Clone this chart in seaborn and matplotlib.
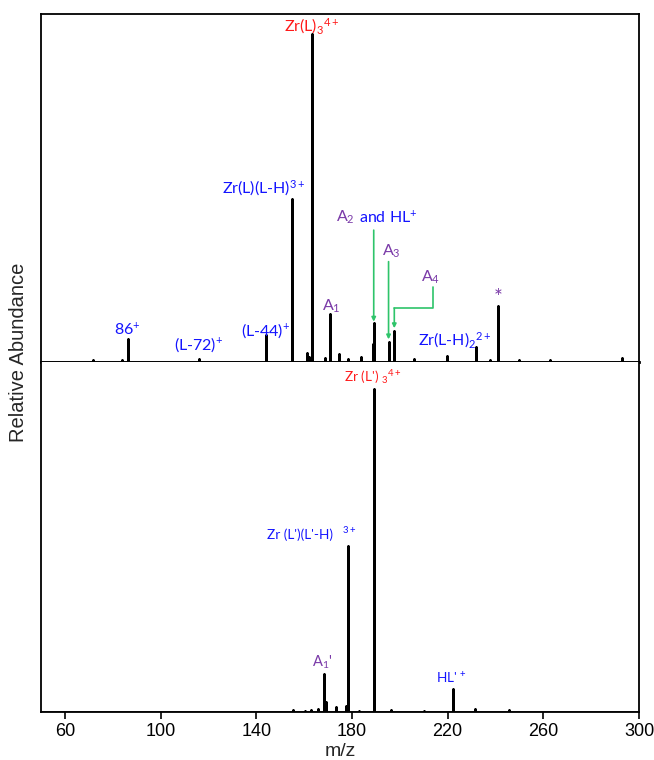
import numpy as np
import pandas as pd
import matplotlib
matplotlib.use("Agg")
import matplotlib.pyplot as plt
import seaborn as sns

# ---------------- data ----------------
top_mz = [71.8, 84.0, 86.2, 116.1, 144.0, 154.8, 161.0, 162.0, 163.3, 168.7, 170.8,
          174.7, 178.5, 183.6, 188.6, 189.1, 195.3, 197.5, 206.0, 219.6, 232.0,
          237.7, 241.0, 249.8, 262.8, 292.9]
top_int = [0.5, 0.5, 6.9, 0.8, 8.2, 49.7, 2.8, 1.5, 100, 1.2, 14.5,
           2.4, 0.8, 1.5, 5.6, 11.8, 6.2, 9.4, 0.9, 1.8, 4.7,
           0.6, 17.1, 0.6, 0.6, 1.3]

bot_mz = [155.3, 160.5, 163.0, 166.0, 168.3, 169.0, 173.3, 177.6, 178.2, 183.0,
          189.2, 196.3, 210.0, 222.1, 231.4, 245.5]
bot_int = [0.6, 0.4, 0.5, 0.8, 11.7, 3.1, 1.5, 1.9, 51.4, 0.4,
           100, 0.6, 0.3, 7.0, 0.9, 0.5]

x_ticks = [60, 100, 140, 180, 220, 260, 300]
x_range = (50, 300)

BLUE = "#1414FF"
RED = "#FF1A1A"
PURPLE = "#7A3AA8"
GREEN = "#2EC46A"


def stick_frame(mz, inten):
    rows = [(x_range[0], 0.0)]
    for m, h in sorted(zip(mz, inten)):
        rows += [(m, 0.0), (m, h), (m, 0.0)]
    rows.append((x_range[1], 0.0))
    return pd.DataFrame(rows, columns=["mz", "abundance"])


sns.set_theme(style="white")
plt.rcParams["font.family"] = ["Liberation Sans", "DejaVu Sans"]
plt.rcParams["mathtext.fontset"] = "custom"
plt.rcParams["mathtext.rm"] = "Lato"
plt.rcParams["mathtext.it"] = "Lato:italic"
plt.rcParams["mathtext.bf"] = "Lato:bold"

fig = plt.figure(figsize=(6.54, 7.60), dpi=100)
L, W = 41 / 654, 598 / 654
ax_top = fig.add_axes([L, (760 - 362) / 760, W, 348 / 760])
ax_bot = fig.add_axes([L, (760 - 712) / 760, W, 350 / 760], sharex=ax_top)

sns.lineplot(data=stick_frame(top_mz, top_int), x="mz", y="abundance",
             sort=False, estimator=None, color="black", lw=1.8, ax=ax_top)
sns.lineplot(data=stick_frame(bot_mz, bot_int), x="mz", y="abundance",
             sort=False, estimator=None, color="black", lw=1.8, ax=ax_bot)

ax_top.set_xlim(*x_range)
ax_top.set_ylim(0, 106.1)
ax_bot.set_ylim(0, 108.4)

for ax in (ax_top, ax_bot):
    for s in ax.spines.values():
        s.set_color("black")
        s.set_linewidth(1.3)
    ax.set_yticks([])
    ax.set_ylabel("")
ax_bot.spines["top"].set_visible(False)
ax_top.spines["bottom"].set_linewidth(2.0)
ax_top.tick_params(axis="x", bottom=False, labelbottom=False)
ax_top.set_xlabel("")

ax_bot.set_xticks(x_ticks)
ax_bot.set_xticklabels([str(t) for t in x_ticks])
ax_bot.tick_params(axis="x", direction="out", length=5, width=1.2,
                   bottom=True, labelsize=13, pad=3, colors="black")
ax_bot.set_xlabel("m/z", fontsize=14, labelpad=2)

fig.text(18.5 / 654, 1 - 352 / 760, "Relative Abundance", rotation=90,
         fontsize=14.5, ha="center", va="center")

# ---------------- annotations ----------------
lf = "Lato"
ts = 11.5

def lab(ax, x, y, s, c, size=ts, ha="center"):
    ax.text(x, y, s, color=c, fontsize=size, ha=ha, va="center",
            family=lf, clip_on=False)

lab(ax_top, 163.3, 102.5, r"Zr(L)$_3$$^{4+}$", RED)
lab(ax_top, 143.2, 53.0, r"Zr(L)(L-H)$^{3+}$", BLUE)
lab(ax_top, 85.9, 9.8, r"86$^{+}$", BLUE)
lab(ax_top, 116.0, 5.4, r"(L-72)$^{+}$", BLUE)
lab(ax_top, 144.0, 9.4, r"(L-44)$^{+}$", BLUE)
lab(ax_top, 171.2, 17.0, r"A$_1$", PURPLE)
lab(ax_top, 181.2, 44.0, r"A$_2$", PURPLE, ha="right")
lab(ax_top, 181.2, 44.0, r" and HL$^{+}$", BLUE, ha="left")
lab(ax_top, 196.3, 33.6, r"A$_3$", PURPLE)
lab(ax_top, 213.0, 25.8, r"A$_4$", PURPLE)
lab(ax_top, 223.0, 6.8, r"Zr(L-H)$_2$$^{2+}$", BLUE)
lab(ax_top, 241.0, 19.5, "*", PURPLE, size=15)

arrow = dict(arrowstyle="-|>", color=GREEN, lw=1.2, mutation_scale=6,
             shrinkA=0, shrinkB=0)
ax_top.annotate("", xy=(189.1, 12.3), xytext=(189.1, 40.2), arrowprops=arrow)
ax_top.annotate("", xy=(195.3, 6.9), xytext=(195.3, 30.6), arrowprops=arrow)
ax_top.plot([213.7, 213.7, 197.7], [22.8, 16.4, 16.4], color=GREEN, lw=1.2)
ax_top.annotate("", xy=(197.7, 10.3), xytext=(197.7, 16.4), arrowprops=arrow)

bs = 9.8
lab(ax_bot, 188.8, 103.7, r"Zr (L') $_3$$^{4+}$", RED, size=bs)
lab(ax_bot, 144.4, 54.8, r"Zr (L')(L'-H)", BLUE, size=bs, ha="left")
lab(ax_bot, 178.6, 55.6, r"$^{3+}$", BLUE, size=bs)
lab(ax_bot, 167.4, 15.5, r"A$_1$'", PURPLE, size=10.5)
lab(ax_bot, 221.4, 10.5, r"HL' $^{+}$", BLUE, size=bs)

fig.savefig("out.png", dpi=100)
